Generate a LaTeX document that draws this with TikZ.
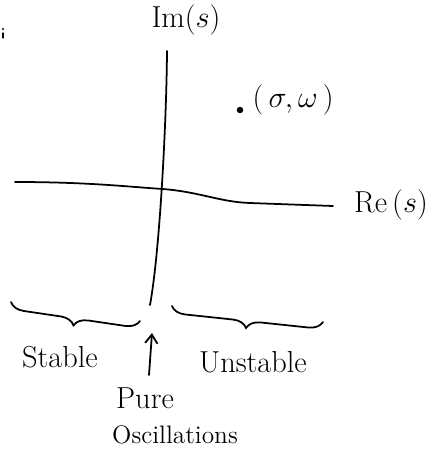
\documentclass[tikz,border=0pt]{standalone}
\usetikzlibrary{arrows.meta,decorations.pathreplacing}
\begin{document}
\begin{tikzpicture}[x=0.02cm, y=-0.02cm, line width=1pt, line cap=round,
  >={Straight Barb[length=5pt,width=7pt]},
  lbl/.style={font=\LARGE},
  brc/.style={decorate, decoration={brace, mirror, amplitude=8pt}}]
  \useasboundingbox (0,0) rectangle (442,450);

  % stray mark
  \fill (3,29) circle (0.6pt);
  \draw[line width=0.6pt] (3,33) -- (3,38);

  % Axes
  \coordinate (imtop) at (167,51);
  \coordinate (imbot) at (150,305);
  \draw (imtop) .. controls (166.5,120) and (160,250) .. (imbot);
  \coordinate (releft) at (15,182);
  \coordinate (reright) at (333,206);
  \draw (releft) .. controls (90,182) and (130,187) .. (163,189)
    .. controls (200,192) and (220,202) .. (250,203) -- (reright);
  \node[lbl] (im) at (186,20) {$\mathrm{Im}(s)$};
  \node[lbl] (re) at (391,205) {$\mathrm{Re}\,(s)$};

  % Point
  \node[circle, fill, inner sep=1.3pt] (pt) at (240,110) {};
  \node[lbl, anchor=west] (ptlbl) at (246,100) {$(\,\sigma,\omega\,)$};

  % Regions
  \coordinate (stl) at (11,302);
  \coordinate (str) at (140,321);
  \coordinate (usl) at (172,306);
  \coordinate (usr) at (323,322);
  \draw[brc] (stl) -- (str);
  \draw[brc] (usl) -- (usr);
  \node[lbl] (stable) at (60,357) {Stable};
  \node[lbl] (unstable) at (253,362) {Unstable};
  \node[lbl] (pure) at (145,398) {Pure};
  \node[font=\Large, inner sep=1pt] (osc) at (175,435) {Oscillations};
  \coordinate (arrlo) at (149,375);
  \coordinate (arrhi) at (152,333);
  \draw[->] (arrlo) -- (arrhi);
\end{tikzpicture}
\end{document}
